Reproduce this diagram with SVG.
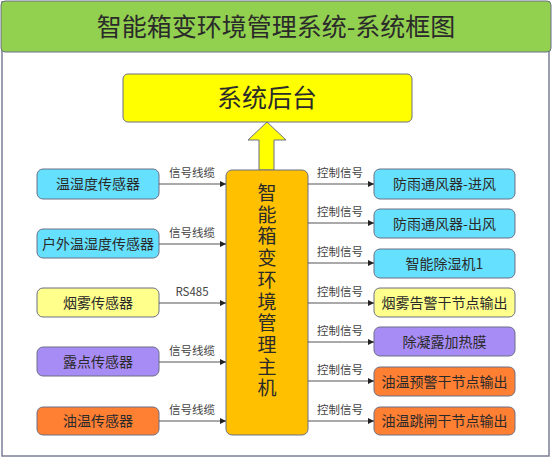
<svg xmlns="http://www.w3.org/2000/svg" width="553" height="459" viewBox="0 0 553 459">
<defs>
<style>
.frame{fill:#fff;stroke:#7a7f96;stroke-width:1.5}
.box{stroke:#6b6f86;stroke-width:1}
.cyan{fill:#66E0FF}
.ylw{fill:#FFFF8C}
.pur{fill:#A88CF5}
.org{fill:#FF7F33}
.t{font-family:"Noto Sans CJK SC","Noto Sans",sans-serif;fill:#2a2a2a;text-anchor:middle}
.bt{font-size:14px}
.lb{font-size:11.5px;fill:#444}
.ln{stroke:#555;stroke-width:1;fill:none;marker-end:url(#ah)}
</style>
<marker id="ah" viewBox="0 0 10 10" refX="10" refY="5" markerWidth="6" markerHeight="6" orient="auto" markerUnits="userSpaceOnUse"><path d="M0,0 L10,5 L0,10 z" fill="#222"/></marker>
</defs>
<rect class="frame" x="2" y="2" width="547" height="454"/>
<g id="title"><rect x="1" y="1" width="550" height="51" rx="4" fill="#92D050" stroke="#6b6f86" stroke-width="1"/>
<text class="t" x="276" y="36" font-size="25">智能箱变环境管理系统-系统框图</text></g>
<g id="backend"><rect class="box" x="123" y="74" width="289" height="48" rx="5" fill="#FFFF00"/>
<text class="t" x="267" y="107" font-size="25">系统后台</text></g>
<g id="uparrow"><path d="M259,170 L259,140 L248,140 L267,122 L286,140 L274,140 L274,170 Z" fill="#FFFF00" stroke="#6b6f86" stroke-width="1"/></g>
<g id="host"><rect class="box" x="226" y="170" width="82" height="265" rx="6" fill="#FFC000"/>
<text class="t" font-size="19" x="267"><tspan x="267" y="200">智</tspan><tspan x="267" y="221.7">能</tspan><tspan x="267" y="243.4">箱</tspan><tspan x="267" y="265.1">变</tspan><tspan x="267" y="286.8">环</tspan><tspan x="267" y="308.5">境</tspan><tspan x="267" y="330.2">管</tspan><tspan x="267" y="351.9">理</tspan><tspan x="267" y="373.6">主</tspan><tspan x="267" y="395.3">机</tspan></text></g>
<g id="s1"><rect class="box cyan" x="37" y="169" width="122" height="30" rx="6"/><text class="t bt" x="98" y="189">温湿度传感器</text></g>
<g id="s2"><rect class="box cyan" x="37" y="229" width="122" height="29" rx="6"/><text class="t bt" x="98" y="248.5">户外温湿度传感器</text></g>
<g id="s3"><rect class="box ylw" x="37" y="288" width="122" height="29" rx="6"/><text class="t bt" x="98" y="307.5">烟雾传感器</text></g>
<g id="s4"><rect class="box pur" x="37" y="347" width="122" height="29" rx="6"/><text class="t bt" x="98" y="366.5">露点传感器</text></g>
<g id="s5"><rect class="box org" x="37" y="407" width="122" height="28" rx="6"/><text class="t bt" x="98" y="426">油温传感器</text></g>
<g id="o1"><rect class="box cyan" x="374" y="169" width="141" height="30" rx="6"/><text class="t bt" x="444.5" y="189">防雨通风器-进风</text></g>
<g id="o2"><rect class="box cyan" x="374" y="209" width="141" height="29" rx="6"/><text class="t bt" x="444.5" y="228.5">防雨通风器-出风</text></g>
<g id="o3"><rect class="box cyan" x="374" y="249" width="141" height="29" rx="6"/><text class="t bt" x="444.5" y="268.5">智能除湿机1</text></g>
<g id="o4"><rect class="box ylw" x="374" y="288" width="141" height="29" rx="6"/><text class="t bt" x="444.5" y="307.5">烟雾告警干节点输出</text></g>
<g id="o5"><rect class="box pur" x="374" y="327" width="141" height="29" rx="6"/><text class="t bt" x="444.5" y="346.5">除凝露加热膜</text></g>
<g id="o6"><rect class="box org" x="374" y="367" width="141" height="29" rx="6"/><text class="t bt" x="444.5" y="386.5">油温预警干节点输出</text></g>
<g id="o7"><rect class="box org" x="374" y="407" width="141" height="28" rx="6"/><text class="t bt" x="444.5" y="426">油温跳闸干节点输出</text></g>
<g id="connectors">
<path class="ln" d="M159,184 H226"/><path class="ln" d="M159,244 H226"/><path class="ln" d="M159,303 H226"/><path class="ln" d="M159,362 H226"/><path class="ln" d="M159,421 H226"/>
<path class="ln" d="M308,184 H374"/><path class="ln" d="M308,223 H374"/><path class="ln" d="M308,263 H374"/><path class="ln" d="M308,303 H374"/><path class="ln" d="M308,342 H374"/><path class="ln" d="M308,381 H374"/><path class="ln" d="M308,421 H374"/>
<text class="t lb" x="192" y="177">信号线缆</text><text class="t lb" x="192" y="237">信号线缆</text><text class="t lb" font-family="Liberation Sans,sans-serif" x="192" y="296">RS485</text><text class="t lb" x="192" y="355">信号线缆</text><text class="t lb" x="192" y="414">信号线缆</text>
<text class="t lb" x="340" y="177">控制信号</text><text class="t lb" x="340" y="216">控制信号</text><text class="t lb" x="340" y="256">控制信号</text><text class="t lb" x="340" y="296">控制信号</text><text class="t lb" x="340" y="335">控制信号</text><text class="t lb" x="340" y="374">控制信号</text><text class="t lb" x="340" y="414">控制信号</text>
</g>
</svg>
